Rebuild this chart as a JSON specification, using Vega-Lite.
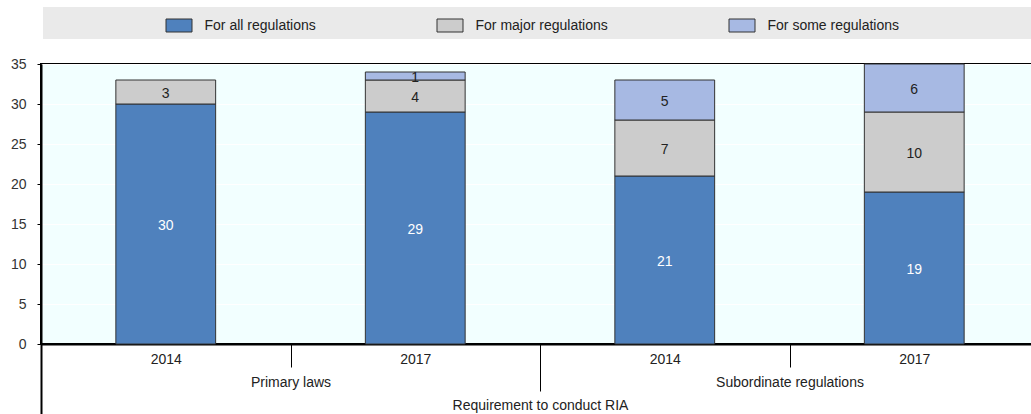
{
  "$schema": "https://vega.github.io/schema/vega-lite/v6.json",
  "width": 998,
  "height": 280,
  "autosize": "none",
  "padding": {"left": 41, "top": 64, "right": 0, "bottom": 70},
  "background": "white",
  "config": {
    "font": "Liberation Sans",
    "view": {"fill": "#F2FFFF", "stroke": "#000", "strokeWidth": 2},
    "axisY": {
      "values": [0, 5, 10, 15, 20, 25, 30, 35], "grid": true, "labelOverlap": false,
      "gridColor": "#FFFFFF", "gridWidth": 1, "domainColor": "#000", "domainWidth": 2,
      "tickColor": "#000", "tickSize": 4, "labelFontSize": 14, "labelColor": "#333",
      "labelPadding": 11, "title": null
    }
  },
  "data": {
    "values": [
      {"slot": "Primary laws|2014", "group": "Primary laws", "type": "For all regulations", "rank": 1, "value": 30},
      {"slot": "Primary laws|2014", "group": "Primary laws", "type": "For major regulations", "rank": 2, "value": 3},
      {"slot": "Primary laws|2017", "group": "Primary laws", "type": "For all regulations", "rank": 1, "value": 29},
      {"slot": "Primary laws|2017", "group": "Primary laws", "type": "For major regulations", "rank": 2, "value": 4},
      {"slot": "Primary laws|2017", "group": "Primary laws", "type": "For some regulations", "rank": 3, "value": 1},
      {"slot": "Subordinate regulations|2014", "group": "Subordinate regulations", "type": "For all regulations", "rank": 1, "value": 21},
      {"slot": "Subordinate regulations|2014", "group": "Subordinate regulations", "type": "For major regulations", "rank": 2, "value": 7},
      {"slot": "Subordinate regulations|2014", "group": "Subordinate regulations", "type": "For some regulations", "rank": 3, "value": 5},
      {"slot": "Subordinate regulations|2017", "group": "Subordinate regulations", "type": "For all regulations", "rank": 1, "value": 19},
      {"slot": "Subordinate regulations|2017", "group": "Subordinate regulations", "type": "For major regulations", "rank": 2, "value": 10},
      {"slot": "Subordinate regulations|2017", "group": "Subordinate regulations", "type": "For some regulations", "rank": 3, "value": 6}
    ]
  },
  "layer": [
    {
      "layer": [
        {
          "mark": {"type": "bar", "width": {"band": 0.4}, "stroke": "#333", "strokeWidth": 1},
          "encoding": {
            "x": {
              "field": "slot", "type": "nominal", "sort": null,
              "scale": {"type": "band", "paddingInner": 0, "paddingOuter": 0},
              "axis": {
                "orient": "bottom", "title": null, "tickBand": "extent", "tickSize": 23,
                "tickColor": "#000", "tickWidth": 1, "domainColor": "#000", "domainWidth": 2,
                "labelExpr": "split(datum.value, '|')[1]", "labelFontSize": 14, "labelColor": "#222",
                "labelPadding": -15, "labelAngle": 0, "grid": false
              }
            },
            "y": {
              "field": "value", "type": "quantitative", "stack": "zero",
              "scale": {"domain": [0, 35], "nice": false},
              "axis": {"values": [0, 5, 10, 15, 20, 25, 30, 35], "labelOverlap": false, "tickCount": 8}
            },
            "color": {
              "field": "type", "type": "nominal",
              "scale": {
                "domain": ["For all regulations", "For major regulations", "For some regulations"],
                "range": ["#4F81BD", "#CCCCCC", "#A7B9E3"]
              },
              "legend": {
                "orient": "none", "legendX": 2, "legendY": -57, "direction": "horizontal", "columns": 3,
                "title": "\u00a0", "titleOrient": "left", "titleFontSize": 14, "titlePadding": 117.5,
                "fillColor": "#EAEAEA", "padding": 5,
                "labelFontSize": 14, "labelColor": "#222", "labelOffset": 12, "columnPadding": 118,
                "symbolType": "M-1,-0.5H1V0.5H-1Z", "symbolSize": 676,
                "symbolStrokeColor": "#333", "symbolStrokeWidth": 1, "labelLimit": 500,
                "labelExpr": "datum.label == 'For some regulations' ? datum.label + '\u2800\u2800\u2800\u2800\u2800\u2800\u2800\u2800\u2800\u2800\u2800\u2800\u2800\u2800\u2800\u2800\u2800\u2800\u2800\u2800\u2800\u2800\u2800\u2800\u2800\u2800\u2800\u2800\u2800\u2800\u2800\u2800\u2800\u2800\u2800\u2800\u2800\u2800\u2800\u2800' : datum.label"
              }
            },
            "order": {"field": "rank", "type": "quantitative"}
          }
        },
        {
          "transform": [
            {"stack": "value", "groupby": ["slot"], "sort": [{"field": "rank"}], "as": ["v0", "v1"]},
            {"calculate": "(datum.v0 + datum.v1) / 2", "as": "mid"}
          ],
          "mark": {"type": "text", "fontSize": 14, "dy": 2},
          "encoding": {
            "x": {"field": "slot", "type": "nominal", "sort": null},
            "y": {"field": "mid", "type": "quantitative", "axis": {"values": [0, 5, 10, 15, 20, 25, 30, 35], "labelOverlap": false, "tickCount": 8}},
            "text": {"field": "value", "type": "quantitative"},
            "color": {
              "condition": {"test": "datum.type === 'For all regulations'", "value": "#FFFFFF"},
              "value": "#222222"
            }
          }
        }
      ]
    },
    {
      "mark": {"type": "point", "opacity": 0},
      "encoding": {
        "x": {
          "field": "group", "type": "nominal", "sort": null,
          "scale": {"type": "band", "paddingInner": 0, "paddingOuter": 0},
          "axis": {
            "orient": "bottom", "title": null, "tickBand": "extent", "tickSize": 47,
            "tickColor": "#000", "tickWidth": 1, "domain": false,
            "labelFontSize": 14, "labelColor": "#222", "labelPadding": -16, "labelAngle": 0, "grid": false
          }
        }
      }
    },
    {
      "mark": {"type": "point", "opacity": 0},
      "encoding": {
        "x": {
          "datum": "Requirement to conduct RIA", "type": "nominal",
          "scale": {"type": "band", "paddingInner": 0, "paddingOuter": 0},
          "axis": {
            "orient": "bottom", "title": null, "tickBand": "extent", "tickSize": 70,
            "tickColor": "#000", "tickWidth": 2, "domain": false,
            "labelFontSize": 14, "labelColor": "#222", "labelPadding": -16, "labelAngle": 0, "grid": false
          }
        }
      }
    }
  ],
  "resolve": {"scale": {"x": "independent"}, "axis": {"x": "independent"}}
}
